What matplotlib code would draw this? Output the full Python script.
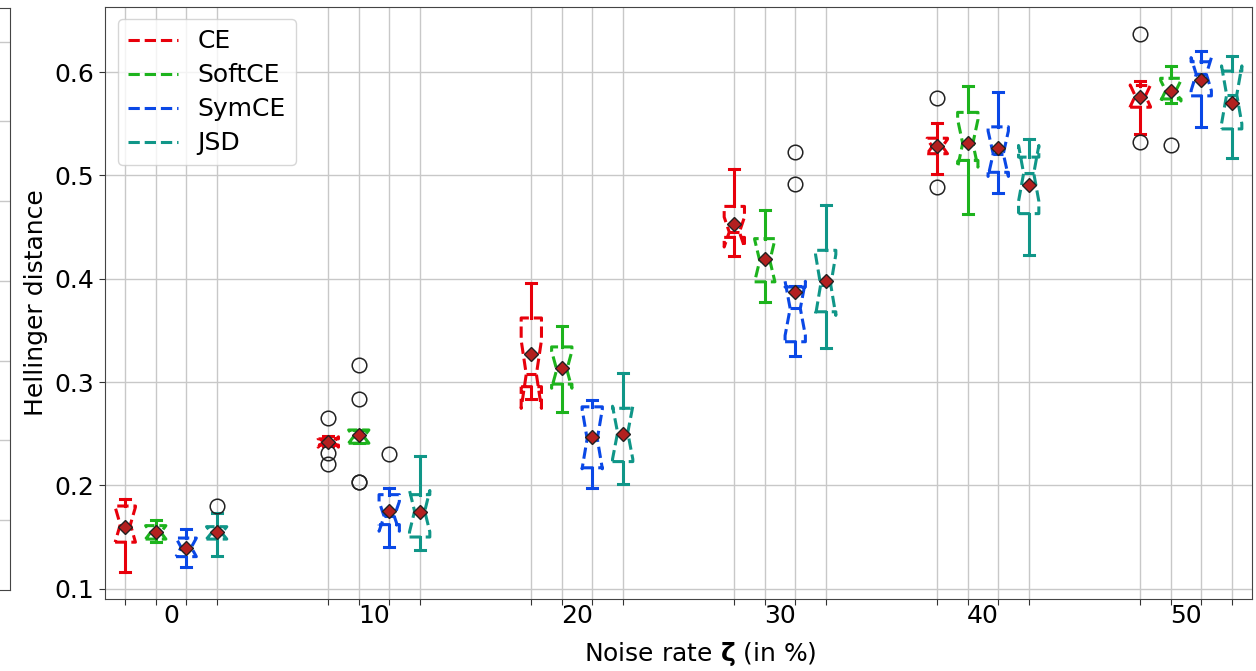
import matplotlib
matplotlib.use("Agg")
import matplotlib.pyplot as plt
from matplotlib.lines import Line2D

# Noise levels (x groups) and the four training losses
NOISE = [0, 10, 20, 30, 40, 50]
METHODS = ["CE", "SoftCE", "SymCE", "JSD"]
COLORS = ["#e8000b", "#1db31d", "#0a48e6", "#109688"]

# Box statistics of the Hellinger distance, one row per method, one column per noise level
Q1 = [
    [0.145, 0.239, 0.2955, 0.440, 0.521, 0.566],
    [0.148, 0.2408, 0.298, 0.397, 0.5145, 0.574],
    [0.131, 0.162, 0.217, 0.339, 0.503, 0.577],
    [0.148, 0.150, 0.223, 0.368, 0.463, 0.545],
]
MEDIAN = [
    [0.162, 0.242, 0.3075, 0.4452, 0.528, 0.577],
    [0.1545, 0.2472, 0.312, 0.4175, 0.531, 0.582],
    [0.140, 0.170, 0.245, 0.3712, 0.521, 0.598],
    [0.154, 0.175, 0.251, 0.394, 0.502, 0.578],
]
Q3 = [
    [0.180, 0.245, 0.362, 0.470, 0.536, 0.587],
    [0.161, 0.2536, 0.334, 0.4388, 0.561, 0.594],
    [0.149, 0.191, 0.276, 0.392, 0.547, 0.610],
    [0.160, 0.191, 0.2746, 0.4275, 0.5177, 0.601],
]
WHISKER_LO = [
    [0.116, 0.238, 0.284, 0.4217, 0.5016, 0.5403],
    [0.1455, 0.2408, 0.2707, 0.377, 0.4623, 0.5699],
    [0.121, 0.140, 0.1973, 0.3255, 0.4829, 0.5473],
    [0.132, 0.137, 0.2014, 0.3326, 0.4227, 0.5167],
]
WHISKER_HI = [
    [0.187, 0.248, 0.3955, 0.5065, 0.5506, 0.5913],
    [0.166, 0.2536, 0.3541, 0.4668, 0.587, 0.6056],
    [0.158, 0.197, 0.2826, 0.3928, 0.5805, 0.6208],
    [0.173, 0.2285, 0.3084, 0.471, 0.5354, 0.6159],
]
MEAN = [
    [0.160, 0.242, 0.327, 0.4533, 0.5283, 0.5757],
    [0.155, 0.2488, 0.3132, 0.4188, 0.5315, 0.5818],
    [0.1397, 0.1755, 0.2466, 0.3873, 0.5264, 0.5925],
    [0.155, 0.1745, 0.2494, 0.3979, 0.4903, 0.5703],
]
NOTCH_LO = [
    [0.145, 0.237, 0.2745, 0.4307, 0.521, 0.5665],
    [0.148, 0.2408, 0.294, 0.397, 0.508, 0.572],
    [0.131, 0.1556, 0.216, 0.345, 0.499, 0.582],
    [0.148, 0.155, 0.2254, 0.3645, 0.475, 0.550],
]
NOTCH_HI = [
    [0.179, 0.247, 0.3405, 0.4597, 0.535, 0.5875],
    [0.161, 0.2536, 0.330, 0.438, 0.554, 0.592],
    [0.149, 0.1844, 0.274, 0.3975, 0.543, 0.614],
    [0.160, 0.195, 0.2766, 0.4235, 0.529, 0.606],
]
FLIERS = [
    [[], [0.265, 0.2317, 0.2208], [], [], [0.5747, 0.4887], [0.6369, 0.5322]],
    [[], [0.3164, 0.2833, 0.2037, 0.2030], [], [], [], [0.529]],
    [[], [0.2302], [], [0.5225, 0.4913], [], []],
    [[0.180], [], [], [], [], []],
]

OFFSETS = [-0.225, -0.075, 0.075, 0.225]
FS = 18

fig = plt.figure(figsize=(12.56, 6.71), dpi=100)

# neighbouring panel, only its right edge shows
ax_left = fig.add_axes([-0.3, 0.1207, 0.3 + 9.5 / 1256, 0.8674])
ax_left.set_ylim(-0.0878, 0.6424)
ax_left.set_yticks([0.0, 0.1, 0.2, 0.3, 0.4, 0.5, 0.6])
ax_left.set_xticks([])
ax_left.tick_params(labelleft=False, left=False)
ax_left.grid(True, axis="y", color="#c8c8c8", linewidth=1.0)
for sp in ax_left.spines.values():
    sp.set_color("#444444")

ax = fig.add_axes([105 / 1256, 1 - 599 / 671, (1252 - 105) / 1256, (599 - 7) / 671])

major_pos = []
for m, (name, color) in enumerate(zip(METHODS, COLORS)):
    stats = []
    positions = []
    for g in range(len(NOISE)):
        stats.append(dict(
            med=MEDIAN[m][g], q1=Q1[m][g], q3=Q3[m][g],
            whislo=WHISKER_LO[m][g], whishi=WHISKER_HI[m][g],
            mean=MEAN[m][g], cilo=NOTCH_LO[m][g], cihi=NOTCH_HI[m][g],
            fliers=FLIERS[m][g], label=f"{name}-{NOISE[g]}",
        ))
        positions.append(g + OFFSETS[m])
    major_pos.extend(positions)
    ax.bxp(
        stats, positions=positions, widths=0.1, shownotches=True,
        showmeans=True, manage_ticks=False,
        boxprops=dict(color=color, linestyle="--", linewidth=2.2),
        whiskerprops=dict(color=color, linewidth=2.2),
        capprops=dict(color=color, linewidth=2.2),
        medianprops=dict(color=color, linewidth=2.2),
        meanprops=dict(marker="D", markerfacecolor="#b3201f",
                       markeredgecolor="#222222", markersize=7,
                       markeredgewidth=1.0),
        flierprops=dict(marker="o", markerfacecolor="none",
                        markeredgecolor="#222222", markersize=10.5,
                        markeredgewidth=1.1),
    )

ax.set_xlim(-0.325, 5.325)
ax.set_ylim(0.09, 0.663)

# ticks and grid at every box, group labels in between
ax.set_xticks(sorted(major_pos))
ax.set_xticklabels([])
ax.set_xticks([g for g in range(len(NOISE))], [str(n) for n in NOISE], minor=True)
ax.tick_params(axis="x", which="minor", length=0, labelsize=FS)
ax.tick_params(axis="x", which="major", length=4.5, color="#333333")
ax.set_yticks([0.1, 0.2, 0.3, 0.4, 0.5, 0.6])
ax.tick_params(axis="y", labelsize=FS, length=4.5, color="#333333")
ax.grid(True, which="major", color="#c8c8c8", linewidth=1.0)
ax.set_axisbelow(True)
for sp in ax.spines.values():
    sp.set_color("#444444")

ax.set_ylabel("Hellinger distance", fontsize=FS)
ax.set_xlabel(r"Noise rate $\mathbf{\zeta}$ (in %)", fontsize=FS)
ax.xaxis.set_label_coords(0.519, -0.07)

handles = [Line2D([], [], color=c, linestyle="--", linewidth=2.2) for c in COLORS]
ax.legend(handles, METHODS, loc="upper left", fontsize=FS, labelspacing=0.4)

fig.savefig("out.png", dpi=100)
